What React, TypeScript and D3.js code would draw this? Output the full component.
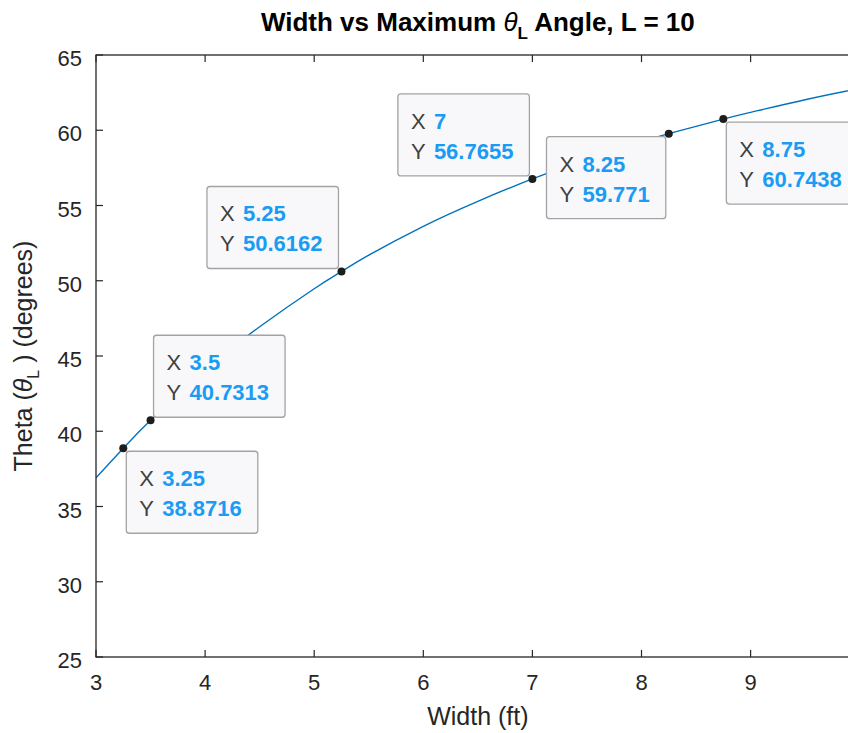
import React from "react";
import * as d3 from "d3";

// Sampled curve: maximum theta_L angle (degrees) for each width (ft), L = 10
const widths = [3, 3.25, 3.5, 4, 4.5, 5, 5.25, 5.5, 6, 6.5, 7, 7.5, 8, 8.25, 8.75, 9, 9.5, 10];
const thetas = [36.9, 38.8716, 40.7313, 44.07, 46.94, 49.47, 50.6162, 51.7, 53.62, 55.28, 56.7655, 58.08, 59.23, 59.771, 60.7438, 61.19, 62.03, 62.78];

// Data tips pinned on the curve
const tipX = [3.25, 3.5, 5.25, 7, 8.25, 8.75];
const tipY = [38.8716, 40.7313, 50.6162, 56.7655, 59.771, 60.7438];
// which side of the marker each tip box opens toward: b/t = below/above, l/r = left/right
const tipSide = ["br", "tr", "tl", "tl", "bl", "br"];

const xTicks = [3, 4, 5, 6, 7, 8, 9, 10];
const xTickLabels = ["3", "4", "5", "6", "7", "8", "9"];
const yTicks = [25, 30, 35, 40, 45, 50, 55, 60, 65];

const W = 848;
const H = 733;
const FONT = "'Liberation Sans', Arial, Helvetica, sans-serif";
const AXIS = "#262626";
const LINE = "#0072BD";
const TIP_VALUE = "#1a9cf4";

const plot = { left: 96, top: 55, right: 96 + 7 * 109.1, bottom: 657 };

let measureCtx: CanvasRenderingContext2D | null = null;
function textWidth(s: string, font: string): number {
  if (!measureCtx) {
    const c = document.createElement("canvas");
    measureCtx = c.getContext("2d");
  }
  if (!measureCtx) return s.length * 12;
  measureCtx.font = font;
  return measureCtx.measureText(s).width;
}

export default function App() {
  const x = d3.scaleLinear().domain([3, 10]).range([plot.left, plot.right]);
  const y = d3.scaleLinear().domain([25, 65]).range([plot.bottom, plot.top]);

  const pts: [number, number][] = widths.map((w, i) => [w, thetas[i]]);
  const linePath = d3
    .line<[number, number]>()
    .x((d) => x(d[0]))
    .y((d) => y(d[1]))
    .curve(d3.curveNatural)(pts) as string;

  const tickLen = 7;
  const cx = (plot.left + plot.right) / 2;
  const cy = (plot.top + plot.bottom) / 2;

  const tipFont = 22;
  const boxH = 82;
  const gap = 3;

  const tips = tipX.map((tx, i) => {
    const px = x(tx);
    const py = y(tipY[i]);
    const xs = String(tx);
    const ys = String(tipY[i]);
    const vw = Math.max(
      textWidth(xs, `bold ${tipFont}px ${FONT}`),
      textWidth(ys, `bold ${tipFont}px ${FONT}`)
    );
    const boxW = 13 + 23 + vw + 16;
    const side = tipSide[i];
    const bx = side.includes("r") ? px + gap : px - gap - boxW;
    const by = side.includes("b") ? py + gap : py - gap - boxH;
    return { px, py, xs, ys, bx, by, boxW };
  });

  return (
    <svg
      width={W}
      height={H}
      style={{ position: "absolute", left: 0, top: 0, background: "#fff", overflow: "hidden" }}
      fontFamily={FONT}
    >
      <rect x={0} y={0} width={W} height={H} fill="#ffffff" />

      {/* title */}
      <text x={cx} y={31} textAnchor="middle" fontSize={26} fontWeight="bold" fill="#000">
        <tspan>Width vs Maximum </tspan>
        <tspan fontStyle="italic" fontWeight="normal">θ</tspan>
        <tspan fontSize={17} dy={8}>L</tspan>
        <tspan dy={-8}> Angle, L = 10</tspan>
      </text>

      {/* curve */}
      <defs>
        <clipPath id="plot-clip">
          <rect x={plot.left} y={plot.top} width={plot.right - plot.left} height={plot.bottom - plot.top} />
        </clipPath>
      </defs>
      <path d={linePath} fill="none" stroke={LINE} strokeWidth={1.4} clipPath="url(#plot-clip)" />

      {/* axes box */}
      <rect
        x={plot.left}
        y={plot.top}
        width={plot.right - plot.left}
        height={plot.bottom - plot.top}
        fill="none"
        stroke={AXIS}
        strokeWidth={1.3}
      />

      {/* x ticks, bottom and top */}
      {xTicks.map((t) => (
        <g key={"xt" + t}>
          <line x1={x(t)} x2={x(t)} y1={plot.bottom} y2={plot.bottom - tickLen} stroke={AXIS} strokeWidth={1.2} />
          <line x1={x(t)} x2={x(t)} y1={plot.top} y2={plot.top + tickLen} stroke={AXIS} strokeWidth={1.2} />
        </g>
      ))}
      {xTickLabels.map((t) => (
        <text key={"xl" + t} x={x(+t)} y={690} textAnchor="middle" fontSize={22} fill={AXIS}>
          {t}
        </text>
      ))}

      {/* y ticks, left and right */}
      {yTicks.map((t) => (
        <g key={"yt" + t}>
          <line x1={plot.left} x2={plot.left + tickLen} y1={y(t)} y2={y(t)} stroke={AXIS} strokeWidth={1.2} />
          <line x1={plot.right} x2={plot.right - tickLen} y1={y(t)} y2={y(t)} stroke={AXIS} strokeWidth={1.2} />
          <text x={82} y={y(t) + 11} textAnchor="end" fontSize={22} fill={AXIS}>
            {t}
          </text>
        </g>
      ))}

      {/* axis labels */}
      <text x={cx} y={725} textAnchor="middle" fontSize={25} fill={AXIS}>
        Width (ft)
      </text>
      <text transform={`translate(32,${cy}) rotate(-90)`} textAnchor="middle" fontSize={25} fill={AXIS}>
        <tspan>Theta (</tspan>
        <tspan fontStyle="italic">θ</tspan>
        <tspan fontSize={16} dy={7}>L</tspan>
        <tspan dy={-7}> ) (degrees)</tspan>
      </text>

      {/* data tips */}
      {tips.map((d, i) => (
        <g key={"tip" + i}>
          <rect
            x={d.bx}
            y={d.by}
            width={d.boxW}
            height={boxH}
            rx={3}
            fill="#f8f8fa"
            stroke="#a3a3a3"
            strokeWidth={1.3}
          />
          <text x={d.bx + 13} y={d.by + 35} fontSize={tipFont} fill="#404040">
            X
          </text>
          <text x={d.bx + 13} y={d.by + 65} fontSize={tipFont} fill="#404040">
            Y
          </text>
          <text x={d.bx + 36} y={d.by + 35} fontSize={tipFont} fontWeight="bold" fill={TIP_VALUE}>
            {d.xs}
          </text>
          <text x={d.bx + 36} y={d.by + 65} fontSize={tipFont} fontWeight="bold" fill={TIP_VALUE}>
            {d.ys}
          </text>
          <circle cx={d.px} cy={d.py} r={4} fill="#1b1e1b" />
        </g>
      ))}
    </svg>
  );
}
